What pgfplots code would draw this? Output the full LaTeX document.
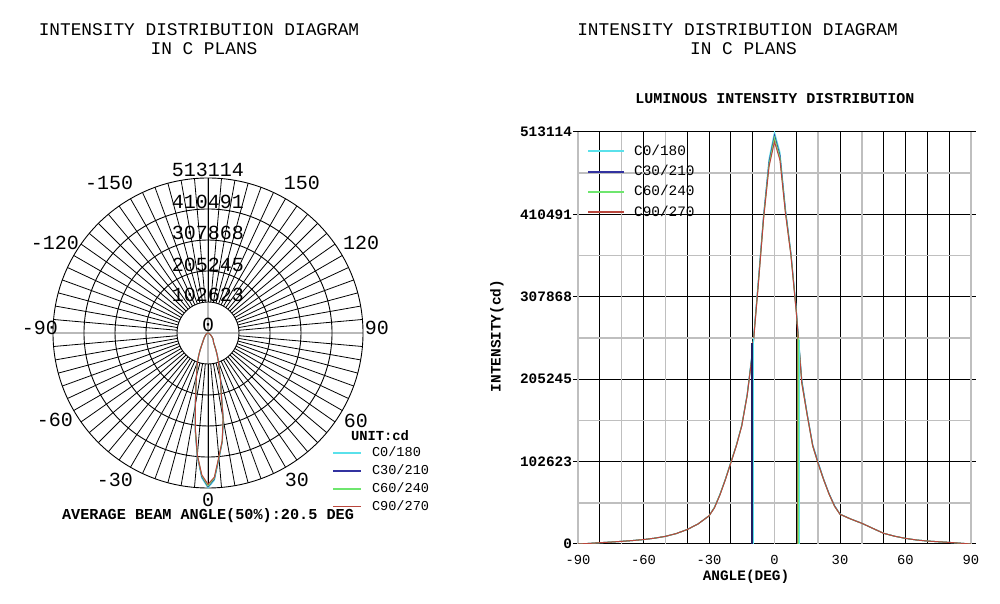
\documentclass[border=0pt]{standalone}
\usepackage{fontspec}
\setmainfont{Liberation Mono}
\usepackage{pgfplots}
\usepackage{pgfplotstable}
\pgfplotsset{compat=1.18}
\definecolor{cA}{RGB}{90,225,235}
\definecolor{cB}{RGB}{50,50,160}
\definecolor{cC}{RGB}{110,230,110}
\definecolor{cD}{RGB}{185,70,60}
\pgfplotstableread{
a c0 c30 c60 c90
-90 0 0 0 0
-85 700 700 700 700
-80 1600 1600 1600 1600
-75 2400 2400 2400 2400
-70 3300 3300 3300 3300
-65 4300 4300 4300 4300
-60 5500 5500 5500 5500
-55 7200 7200 7200 7200
-50 9500 9500 9500 9500
-45 13000 13000 13000 13000
-40 18000 18000 18000 18000
-35 25000 25000 25000 25000
-30 35000 35000 35000 35000
-27.5 46000 45500 45500 45000
-25 62000 61500 61500 61000
-22.5 81000 80500 80500 80000
-20 102000 101500 101500 101000
-17.5 123000 122500 122500 122000
-15 148000 147500 147500 147000
-12.5 187000 186000 185500 185000
-10 244000 242000 241000 240000
-7.5 326000 323000 322000 320000
-5 410000 408000 406000 405000
-2.5 480000 476000 473000 470000
0 513000 509000 506000 501000
2.5 488000 484000 481000 478000
5 418000 416000 414000 412000
7.5 364000 362000 361000 360000
10 292000 290000 289000 288000
12.5 205000 203000 201000 200000
15 162000 161000 160000 160000
17.5 124000 123000 122000 122000
20 102000 101000 100000 100000
22.5 81000 80500 80000 80000
25 63000 62500 62000 62000
27.5 48000 47500 47000 47000
30 37500 37000 37000 37000
35 31000 31000 31000 31000
40 25800 25800 25800 25800
45 19500 19500 19500 19500
50 13300 13300 13300 13300
55 9700 9700 9700 9700
60 7000 7000 7000 7000
65 5000 5000 5000 5000
70 3700 3700 3700 3700
75 2800 2800 2800 2800
80 2000 2000 2000 2000
85 1000 1000 1000 1000
90 0 0 0 0
}\lumdata
\begin{document}
\begin{tikzpicture}
\path[use as bounding box] (0,0) rectangle (500pt,302pt);
% titles
\node[font=\fontsize{8.9}{10}\selectfont, inner sep=0pt] at (99.5pt,287pt) {INTENSITY DISTRIBUTION DIAGRAM};
\node[font=\fontsize{8.9}{10}\selectfont, inner sep=0pt] at (102pt,277.5pt) {IN C PLANS};
\node[font=\fontsize{8.9}{10}\selectfont, inner sep=0pt] at (368.75pt,287pt) {INTENSITY DISTRIBUTION DIAGRAM};
\node[font=\fontsize{8.9}{10}\selectfont, inner sep=0pt] at (371.75pt,277.5pt) {IN C PLANS};
\node[font=\bfseries\fontsize{7.5}{9}\selectfont, inner sep=0pt] at (387.5pt,252.5pt) {LUMINOUS INTENSITY DISTRIBUTION};
\node[font=\bfseries\fontsize{7.2}{9}\selectfont, inner sep=0pt] at (373pt,13.5pt) {ANGLE(DEG)};
\node[font=\bfseries\fontsize{7.2}{9}\selectfont, inner sep=0pt, rotate=90] at (248.5pt,134pt) {INTENSITY(cd)};
\node[font=\bfseries\fontsize{6.9}{8}\selectfont, inner sep=0pt] at (190pt,84pt) {UNIT:cd};
\node[font=\bfseries\fontsize{7.6}{9}\selectfont, inner sep=0pt] at (104pt,44pt) {AVERAGE BEAM ANGLE(50\%):20.5 DEG};

% ---------------- polar diagram ----------------
\begin{axis}[
  at={(104pt,135.5pt)}, anchor=center,
  x=15.5pt, y=15.5pt,
  xmin=-5, xmax=5, ymin=-5, ymax=5,
  hide axis, clip=false,
  legend style={at={(axis cs:4.0,-3.66)}, anchor=north west, draw=none, fill=none,
    inner sep=0pt, font=\fontsize{6.8}{8}\selectfont, row sep=2.6pt,
    nodes={inner sep=0pt, text height=5pt, text depth=1.3pt},
    /tikz/every odd column/.append style={column sep=5pt}},
  legend cell align=left,
  legend image code/.code={\draw[#1, line width=0.8pt] (0pt,0pt) -- (14pt,0pt);},
]
\draw[gray!55, line width=1pt] (axis cs:-5,0) -- (axis cs:5,0);
\draw[gray!55, line width=1pt] (axis cs:0,-5) -- (axis cs:0,5);
\pgfplotsinvokeforeach{1,2,3,4,5}{\draw[black, line width=0.45pt] (axis cs:0,0) circle[radius=#1];}
\pgfplotsinvokeforeach{5,10,...,175,185,190,...,355}{\draw[black, line width=0.4pt] (axis cs:{cos(#1)},{sin(#1)}) -- (axis cs:{5*cos(#1)},{5*sin(#1)});}
% ring labels
\pgfplotsset{every node/.append style={font=\fontsize{7.7}{9}\selectfont}}
\node[anchor=base, inner sep=0pt] at (axis cs:0,0.05) {0};
\node[anchor=base, inner sep=0pt] at (axis cs:0,1.0) {102623};
\node[anchor=base, inner sep=0pt] at (axis cs:0,1.97) {205245};
\node[anchor=base, inner sep=0pt] at (axis cs:0,3.0) {307868};
\node[anchor=base, inner sep=0pt] at (axis cs:0,4.0) {410491};
\node[anchor=base, inner sep=0pt] at (axis cs:0,5.06) {513114};
% angle labels
\node[inner sep=0pt] at (axis cs:3.03,4.84) {150};
\node[inner sep=0pt] at (axis cs:4.94,2.90) {120};
\node[inner sep=0pt] at (axis cs:5.45,0.16) {90};
\node[inner sep=0pt] at (axis cs:4.77,-2.84) {60};
\node[inner sep=0pt] at (axis cs:2.87,-4.74) {30};
\node[inner sep=0pt] at (axis cs:0,-5.39) {0};
\node[inner sep=0pt] at (axis cs:-3.0,-4.74) {-30};
\node[inner sep=0pt] at (axis cs:-4.94,-2.81) {-60};
\node[inner sep=0pt] at (axis cs:-5.42,0.16) {-90};
\node[inner sep=0pt] at (axis cs:-4.94,2.90) {-120};
\node[inner sep=0pt] at (axis cs:-3.19,4.84) {-150};
\addplot[cA, line width=0.5pt] table[x expr={\thisrow{c0}/102623*sin(\thisrow{a})}, y expr={-\thisrow{c0}/102623*cos(\thisrow{a})}] {\lumdata};
\addlegendentry{C0/180}
\addplot[cB, line width=0.5pt] table[x expr={\thisrow{c30}/102623*sin(\thisrow{a})}, y expr={-\thisrow{c30}/102623*cos(\thisrow{a})}] {\lumdata};
\addlegendentry{C30/210}
\addplot[cC, line width=0.5pt] table[x expr={\thisrow{c60}/102623*sin(\thisrow{a})}, y expr={-\thisrow{c60}/102623*cos(\thisrow{a})}] {\lumdata};
\addlegendentry{C60/240}
\addplot[cD, line width=0.5pt] table[x expr={\thisrow{c90}/102623*sin(\thisrow{a})}, y expr={-\thisrow{c90}/102623*cos(\thisrow{a})}] {\lumdata};
\addlegendentry{C90/270}
\end{axis}

% ---------------- cartesian diagram ----------------
\begin{axis}[
  at={(289pt,30pt)}, anchor=south west,
  width=196.5pt, height=206pt, scale only axis,
  xmin=-90, xmax=90, ymin=0, ymax=513114,
  axis line style={draw=none},
  xtick={-80,-60,-40,-30,-20,-10,10,30,50,60,70,80},
  xticklabels={,-60,,-30,,,,30,,60,,},
  ytick={0,102623,205245,307868,410491,513114},
  yticklabels={0,102623,205245,307868,410491,513114},
  xmajorgrids, ymajorgrids,
  major grid style={black, line width=0.5pt},
  extra x ticks={-90,-70,-50,0,20,40,90},
  extra x tick labels={-90,,,0,,,90},
  extra y ticks={51311,153934,256557,359180,461803},
  extra y tick labels={},
  extra tick style={grid=major, major grid style={gray!50, line width=0.8pt}},
  extra x tick style={major tick length=2.5pt},
  extra y tick style={major tick length=0pt},
  xtick style={draw=none},
  ytick style={draw=black, line width=0.5pt},
  tick align=outside, major tick length=2.5pt,
  xticklabel style={font=\fontsize{6.9}{8}\selectfont, yshift=0.5pt},
  yticklabel style={font=\bfseries\fontsize{7.2}{8}\selectfont, xshift=3pt},
  scaled y ticks=false,
  legend style={at={(axis cs:-85.9,498000)}, anchor=north west, draw=none, fill=none,
    inner sep=0pt, font=\fontsize{7.2}{8}\selectfont, row sep=3.35pt,
    nodes={inner sep=0pt, text height=5.3pt, text depth=1.5pt},
    /tikz/every odd column/.append style={column sep=4.5pt}},
  legend cell align=left,
  legend image code/.code={\draw[#1, line width=0.9pt] (0pt,0pt) -- (18pt,0pt);},
]
\addplot[cA, line width=0.5pt] table[x=a, y=c0] {\lumdata};
\addlegendentry{C0/180}
\addplot[cB, line width=0.5pt] table[x=a, y=c30] {\lumdata};
\addlegendentry{C30/210}
\addplot[cC, line width=0.5pt] table[x=a, y=c60] {\lumdata};
\addlegendentry{C60/240}
\addplot[cD, line width=0.5pt] table[x=a, y=c90] {\lumdata};
\addlegendentry{C90/270}
% half-maximum markers
\addplot[cD, line width=0.5pt, forget plot] coordinates {(-9.95,0) (-9.95,252000)};
\addplot[cB!60!black, line width=1pt, forget plot] coordinates {(-10.1,0) (-10.1,250000)};
\addplot[cA, line width=0.6pt, forget plot] coordinates {(-9.55,0) (-9.55,256000)};
\addplot[cD!60!cC, line width=0.6pt, forget plot] coordinates {(10.5,0) (10.5,262000)};
\addplot[cC, line width=0.5pt, forget plot] coordinates {(11.0,0) (11.0,256000)};
\addplot[cA, line width=0.5pt, forget plot] coordinates {(11.3,0) (11.3,254000)};
\end{axis}
\end{tikzpicture}
\end{document}
